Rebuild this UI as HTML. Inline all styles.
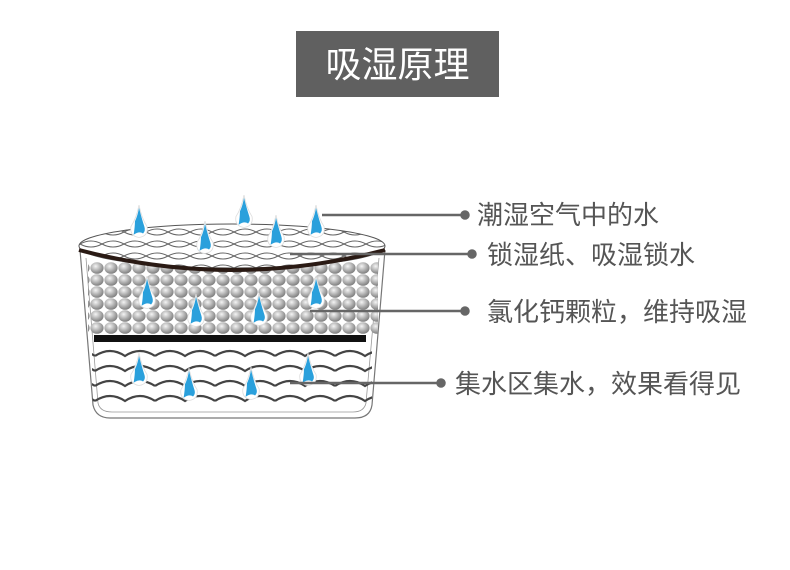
<!DOCTYPE html><html><head><meta charset="utf-8"><style>body{margin:0;background:#fff}svg{display:block}</style></head><body>
<svg width="790" height="570" viewBox="0 0 790 570" xmlns="http://www.w3.org/2000/svg" font-family="Liberation Sans, Noto Sans CJK SC, sans-serif">
<defs>
<radialGradient id="g" cx="0.4" cy="0.35" r="0.7"><stop offset="0" stop-color="#f4f4f4"/><stop offset="0.6" stop-color="#a8a8a8"/><stop offset="1" stop-color="#777"/></radialGradient>
<pattern id="balls" width="14" height="12" patternUnits="userSpaceOnUse" x="90" y="262"><ellipse cx="7" cy="6" rx="6.6" ry="5.8" fill="url(#g)"/></pattern>
<pattern id="net" width="44" height="12" patternUnits="userSpaceOnUse" x="80" y="226"><path d="M0 6 Q11 0 22 6 Q33 12 44 6 M0 6 Q11 12 22 6 Q33 0 44 6" fill="none" stroke="#666" stroke-width="1.1"/></pattern>
<pattern id="wave" width="60" height="15" patternUnits="userSpaceOnUse" x="95" y="344"><path d="M0 12 Q15 2 30 12 Q45 2 60 12" fill="none" stroke="#444" stroke-width="2.2"/></pattern>
<clipPath id="cup"><path d="M80 250 L93 405 Q96 418 110 418 L355 418 Q370 418 372 405 L385 250 Z"/></clipPath>
<g id="drop"><g transform="scale(1.35)"><path d="M0 -14 Q2 -4 6 2 Q7 9 0 10 Q-7 9 -6 2 Q-2 -4 0 -14Z" fill="#fff" stroke="#ddd" stroke-width="0.6"/><path d="M0 -12 Q2 -4 4 2 Q5 5 3 7 Q0 5 -4 8 Q-3 2 -3 -2 Q-1 -6 0 -12 Z" fill="#2aa0dc"/></g></g>
</defs>
<rect x="296" y="31" width="203" height="66" fill="#606060"/>
<text x="397.5" y="77" font-size="36" fill="#fff" text-anchor="middle">吸湿原理</text>
<path d="M80 250 L93 405 Q96 418 110 418 L355 418 Q370 418 372 405 L385 250" fill="none" stroke="#777" stroke-width="1.2"/>
<path d="M86 258 L98 403 Q100 412 112 412 L353 412 Q364 412 366 403 L379 258" fill="none" stroke="#999" stroke-width="0.8"/>
<g clip-path="url(#cup)">
<rect x="88" y="262" width="290" height="72" fill="url(#balls)"/>
<rect x="92" y="344" width="280" height="64" fill="url(#wave)"/>
</g>
<rect x="94" y="335" width="272" height="7" fill="#111"/>
<ellipse cx="232" cy="246" rx="153" ry="22" fill="#fff"/>
<ellipse cx="232" cy="246" rx="153" ry="22" fill="url(#net)" stroke="#555" stroke-width="1"/>
<path d="M79 250 Q232 290 385 250" fill="none" stroke="#2a1a14" stroke-width="4"/>
<use href="#drop" x="139" y="224"/><use href="#drop" x="244" y="214"/><use href="#drop" x="276" y="234"/><use href="#drop" x="316" y="224"/><use href="#drop" x="205" y="240"/>
<use href="#drop" x="147" y="295"/><use href="#drop" x="196" y="313"/><use href="#drop" x="259" y="312"/><use href="#drop" x="316" y="295"/>
<use href="#drop" x="139" y="372"/><use href="#drop" x="189" y="387"/><use href="#drop" x="251" y="386"/><use href="#drop" x="308" y="372"/>
<g stroke="#666" stroke-width="2.5" fill="#666">
<line x1="322" y1="215" x2="465" y2="215"/><circle cx="465" cy="215" r="3.5"/>
<line x1="290" y1="254" x2="472" y2="254"/><circle cx="472" cy="254" r="3.5"/>
<line x1="310" y1="311" x2="465" y2="311"/><circle cx="465" cy="311" r="3.5"/>
<line x1="290" y1="383" x2="441" y2="383"/><circle cx="441" cy="383" r="3.5"/>
</g>
<g font-size="26" fill="#555">
<text x="477" y="224">潮湿空气中的水</text>
<text x="487" y="264">锁湿纸、吸湿锁水</text>
<text x="487" y="321">氯化钙颗粒，维持吸湿</text>
<text x="455" y="393">集水区集水，效果看得见</text>
</g>
</svg></body></html>
